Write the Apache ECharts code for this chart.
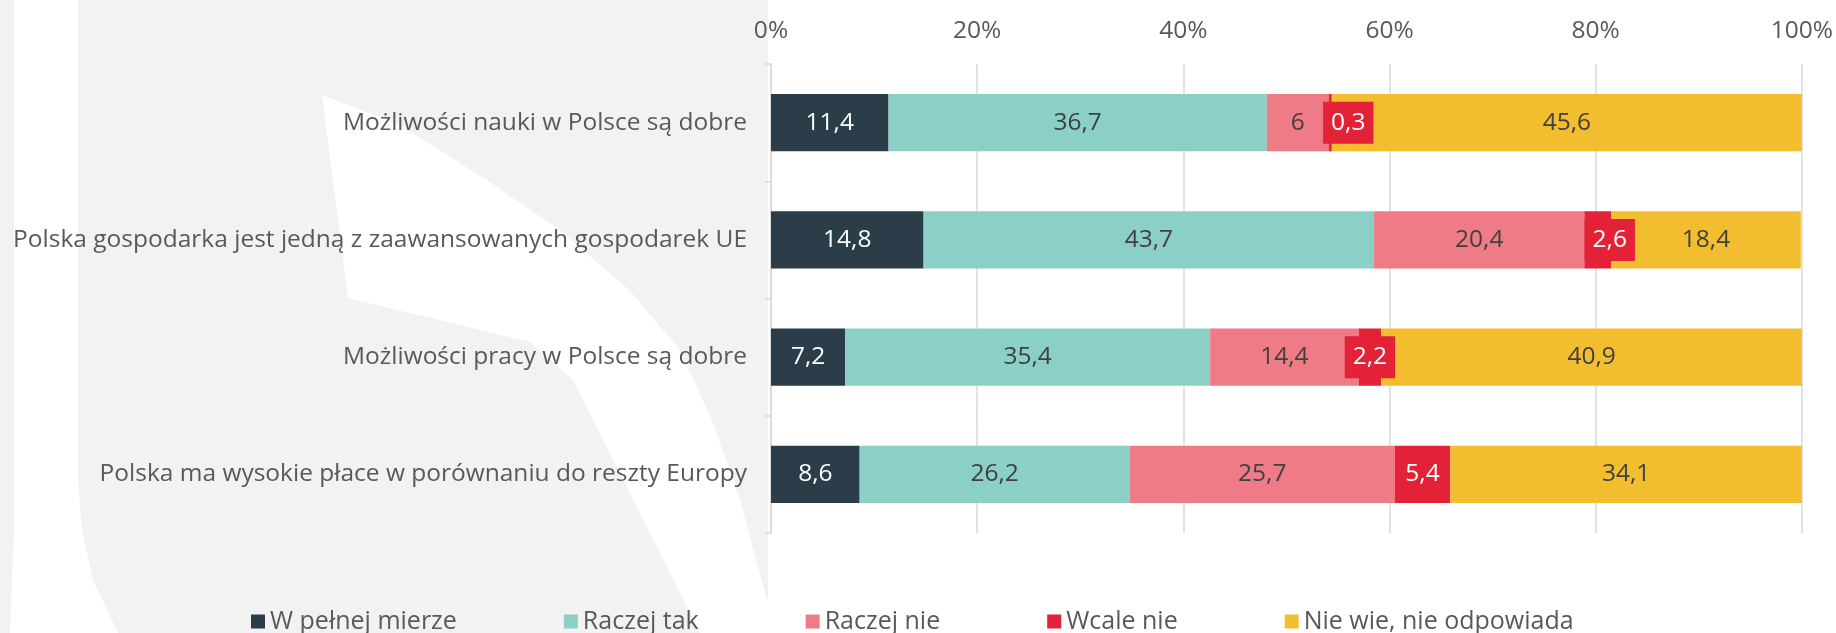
<!DOCTYPE html>
<html>
<head>
<meta charset="utf-8">
<script src="https://cdn.jsdelivr.net/npm/echarts@6/dist/echarts.min.js"></script>
<style>
  html, body { margin: 0; padding: 0; background: #f2f2f2; }
  #chart-box { width: 1836px; height: 633px; }
</style>
</head>
<body>
<div id="chart-box"></div>
<script>
const categories = [
  'Możliwości nauki w Polsce są dobre',
  'Polska gospodarka jest jedną z zaawansowanych gospodarek UE',
  'Możliwości pracy w Polsce są dobre',
  'Polska ma wysokie płace w porównaniu do reszty Europy'
];
const seriesNames = ['W pełnej mierze', 'Raczej tak', 'Raczej nie', 'Wcale nie', 'Nie wie, nie odpowiada'];
const wPelnejMierze = [11.4, 14.8, 7.2, 8.6];
const raczejTak = [36.7, 43.7, 35.4, 26.2];
const raczejNie = [6, 20.4, 14.4, 25.7];
const wcaleNie = [0.3, 2.6, 2.2, 5.4];
const nieWie = [45.6, 18.4, 40.9, 34.1];

const colors = ['#2a3d48', '#8bd0c7', '#ef7b86', '#e32237', '#f2bd2f'];
const labelColors = ['#ffffff', '#404040', '#404040', '#ffffff', '#404040'];
// excel nudged a couple of the small red labels sideways
const redLabelShift = [[18, 0], [12, 0], [0, 0], [0, 0]];

const font = '"Open Sans", "Noto Sans", sans-serif';
const fmt = (v) => String(v).replace('.', ',');

const allData = [wPelnejMierze, raczejTak, raczejNie, wcaleNie, nieWie];

const series = allData.map((arr, i) => {
  const s = {
    name: seriesNames[i],
    type: 'bar',
    stack: 'total',
    barCategoryGap: '51%',
    itemStyle: { color: colors[i] },
    label: {
      show: true,
      position: 'inside',
      fontFamily: font,
      fontSize: 24.5,
      color: labelColors[i],
      formatter: (p) => fmt(p.value)
    },
    data: arr.slice()
  };
  if (i === 3) {
    s.label.backgroundColor = colors[3];
    s.label.padding = [5, 8];
    s.label.lineHeight = 32;
    s.data = arr.map((v, k) => ({ value: v, label: { offset: redLabelShift[k] } }));
  }
  return s;
});

// watermark shapes behind the chart
const leftBand = [[14, 0], [78, 0], [78, 480], [82, 530], [93, 580], [118, 633], [10, 633], [12, 580], [14, 530]];
const leaf = [[322, 95], [348, 298], [530, 342], [573, 380], [700, 633], [800, 633], [767, 600], [740, 500],
  [712, 420], [680, 350], [630, 291], [560, 230], [485, 179], [400, 125]];

let options = {
  backgroundColor: '#f2f2f2',
  animation: false,
  textStyle: { fontFamily: font },
  graphic: [
    { type: 'polygon', z: -10, silent: true, shape: { points: leftBand }, style: { fill: '#ffffff' } },
    { type: 'polygon', z: -10, silent: true, shape: { points: leaf }, style: { fill: '#ffffff' } },
    { type: 'rect', z: -10, silent: true, shape: { x: 768, y: 0, width: 1068, height: 603 }, style: { fill: '#ffffff' } },
    { type: 'rect', z: -10, silent: true, shape: { x: 700, y: 603, width: 1136, height: 30 }, style: { fill: '#ffffff' } }
  ],
  legend: {
    data: seriesNames,
    left: 246,
    top: 604,
    icon: 'rect',
    itemWidth: 14,
    itemHeight: 14,
    itemGap: 107,
    textStyle: { fontFamily: font, fontSize: 25, color: '#595959' }
  },
  grid: {
    left: 771,
    right: 33,
    top: 64,
    bottom: 100,
    containLabel: false
  },
  xAxis: {
    type: 'value',
    position: 'top',
    min: 0,
    max: 100,
    interval: 20,
    axisLine: { show: false },
    axisTick: { show: false },
    axisLabel: {
      formatter: '{value}%',
      fontFamily: font,
      fontSize: 24.5,
      color: '#595959',
      margin: 20
    },
    splitLine: { lineStyle: { color: '#d9d9d9', width: 1.5 } }
  },
  yAxis: {
    type: 'category',
    inverse: true,
    data: categories,
    axisLine: { show: true, lineStyle: { color: '#d9d9d9', width: 1.5 } },
    axisTick: { show: true, length: 6, lineStyle: { color: '#d9d9d9', width: 1.5 } },
    axisLabel: {
      fontFamily: font,
      fontSize: 24.5,
      color: '#595959',
      margin: 24
    }
  },
  series: series
};

let chart = echarts.init(document.getElementById('chart-box'));
chart.setOption(options);
</script>
</body>
</html>
